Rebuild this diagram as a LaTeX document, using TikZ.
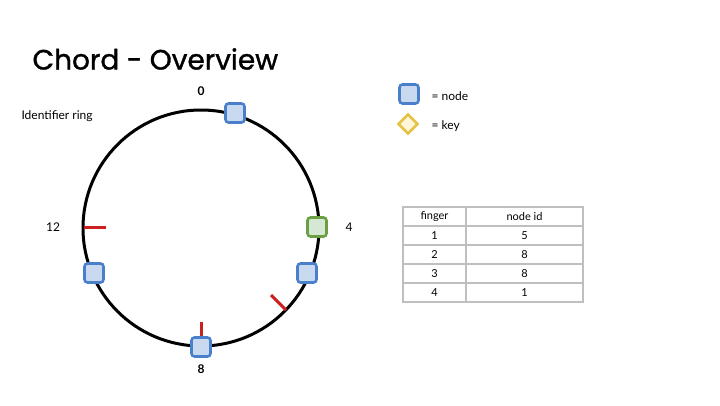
\documentclass[tikz,border=0pt]{standalone}
\usepackage{fontspec}
\setmainfont{Lato}
\newfontfamily\titlefont[FakeBold=1.2]{Poppins}
\usetikzlibrary{shapes.geometric}
\definecolor{nfill}{HTML}{C9DAF0}
\definecolor{ndraw}{HTML}{4A7FCB}
\definecolor{gfill}{HTML}{D5E8D4}
\definecolor{gdraw}{HTML}{6A9F45}
\definecolor{kdraw}{HTML}{E6C34A}
\definecolor{kfill}{HTML}{FFF6D9}
\definecolor{tick}{HTML}{CC1F1F}
\begin{document}
\begin{tikzpicture}[x=1pt,y=-1pt,
  ringnode/.style={draw=ndraw,fill=nfill,line width=2.6pt,rounded corners=3pt,minimum size=19pt,inner sep=0pt},
  greennode/.style={ringnode,draw=gdraw,fill=gfill},
  keynode/.style={diamond,draw=kdraw,fill=kfill,line width=2.6pt,minimum size=20pt,inner sep=0pt},
  lbl/.style={font=\fontsize{12}{13}\selectfont},
  redtick/.style={draw=tick,line width=3pt},
  cell/.style={draw=black!25,line width=2pt,font=\fontsize{11}{12}\selectfont}]
\useasboundingbox (0,0) rectangle (720,405);
\node[anchor=west,font=\titlefont\fontsize{28}{30}\selectfont] (title) at (29,59) {Chord - Overview};
\node[lbl,anchor=west] (idring) at (18,116) {Identifier ring};
\coordinate (c) at (201,228);
\draw[line width=3pt] (c) circle[radius=118];
\node[lbl,font=\bfseries\fontsize{12}{13}\selectfont] (l0) at (201,91) {0};
\node[lbl] (l4) at (349,227) {4};
\node[lbl,font=\bfseries\fontsize{12}{13}\selectfont] (l8) at (201,369) {8};
\node[lbl] (l12) at (53,227) {12};
\coordinate (t12a) at (84,227); \coordinate (t12b) at (106,227);
\draw[redtick] (t12a) -- (t12b);
\coordinate (t8a) at (201,322); \coordinate (t8b) at (201,338);
\draw[redtick] (t8a) -- (t8b);
\coordinate (t6a) at (271,295); \coordinate (t6b) at (286,310);
\draw[redtick] (t6a) -- (t6b);
\node[ringnode] (n1) at (235,113) {};
\node[greennode] (n4) at (317,227) {};
\node[ringnode] (n5) at (307,273) {};
\node[ringnode] (n8) at (201,347) {};
\node[ringnode] (n11) at (94,273) {};
\node[ringnode] (legn) at (409,94) {};
\node[lbl,anchor=west] (legnt) at (428,96) {= node};
\node[keynode] (legk) at (408,124) {};
\node[lbl,anchor=west] (legkt) at (428,126) {= key};
\foreach \r/\a/\b [count=\i from 0] in {0/finger/node id,1/1/5,2/2/8,3/3/8,4/4/1}{
  \node[cell,minimum width=63pt,minimum height=19pt,inner sep=0pt] (a\i) at (434.5,{216.5+19*\r}) {\a};
  \node[cell,minimum width=117pt,minimum height=19pt,inner sep=0pt] (b\i) at (524.5,{216.5+19*\r}) {\b};
}
\end{tikzpicture}
\end{document}
